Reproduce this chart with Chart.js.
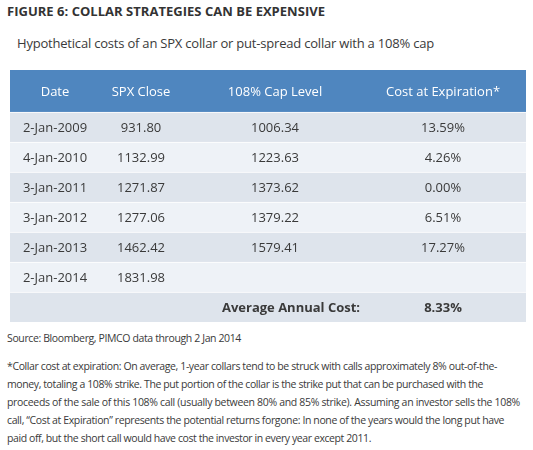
<!DOCTYPE html>
<html>
<head>
<meta charset="utf-8">
<script src="https://cdn.jsdelivr.net/npm/chart.js@4.4.1/dist/chart.umd.min.js"></script>
<style>
  body { margin: 0; background: #fff; width: 533px; height: 450px; position: relative; overflow: hidden;
         font-family: "Open Sans", "Noto Sans", sans-serif; color: #3a3a3a; }
  .line { position: absolute; left: 7px; white-space: nowrap; }
  .title { top: 2px; font-size: 13px; font-weight: 700; color: #333; }
  .subtitle { left: 17px; top: 34px; font-size: 13px; }
  .small { font-size: 10.5px; }
  #wrap { position: absolute; left: 10px; top: 70px; width: 516px; height: 252px; }
</style>
</head>
<body>
<div class="line title" data-w="318">FIGURE 6: COLLAR STRATEGIES CAN BE EXPENSIVE</div>
<div class="line subtitle" data-w="417">Hypothetical costs of an SPX collar or put-spread collar with a 108% cap</div>
<div id="wrap"><canvas id="collarTable"></canvas></div>
<div class="line small" style="top:331px" data-w="234">Source: Bloomberg, PIMCO data through 2 Jan 2014</div>
<div class="line small" style="top:359px" data-w="490">*Collar cost at expiration: On average, 1-year collars tend to be struck with calls approximately 8% out-of-the-</div>
<div class="line small" style="top:377px" data-w="476">money, totaling a 108% strike. The put portion of the collar is the strike put that can be purchased with the</div>
<div class="line small" style="top:395px" data-w="513">proceeds of the sale of this 108% call (usually between 80% and 85% strike). Assuming an investor sells the 108%</div>
<div class="line small" style="top:413px" data-w="497">call, &ldquo;Cost at Expiration&rdquo; represents the potential returns forgone: In none of the years would the long put have</div>
<div class="line small" style="top:431px" data-w="364">paid off, but the short call would have cost the investor in every year except 2011.</div>
<script>
// table data
const headers = [ 'Date', 'SPX Close', '108% Cap Level', 'Cost at Expiration*' ];
const dates = [ '2-Jan-2009', '4-Jan-2010', '3-Jan-2011', '3-Jan-2012', '2-Jan-2013', '2-Jan-2014' ];
const spxClose = [ 931.80, 1132.99, 1271.87, 1277.06, 1462.42, 1831.98 ];
const capLevel = [ 1006.34, 1223.63, 1373.62, 1379.22, 1579.41, null ];
const costAtExpiration = [ 13.59, 4.26, 0.00, 6.51, 17.27, null ];
const averageLabel = 'Average Annual Cost:';
const averageAnnualCost = 8.33;

// layout (row units: 1 = one body row, header is taller)
const headerHeight = 1.4;
const colCenters = [ 45, 131, 265, 433 ];   // px inside the table
const avgLabelCenter = 281;
const tableWidth = 516;
const headerColor = '#4f86bf';
const oddRow = '#dee4ec';
const evenRow = '#eef2f7';
const textColor = '#3a3a3a';

// squeeze the text lines to the reference widths
document.querySelectorAll('[data-w]').forEach(el => {
  const nat = el.getBoundingClientRect().width;
  const n = el.textContent.length;
  el.style.letterSpacing = ((+el.dataset.w - nat) / n).toFixed(3) + 'px';
});

const nRows = dates.length + 1; // + average row
const rowSpans = [ [ -headerHeight, 0 ] ];
const rowColors = [ headerColor ];
const rowBorders = [ 0 ];
for ( let i = 0; i < nRows; i++ ) {
  rowSpans.push([ i, i + 1 ]);
  rowColors.push(i % 2 === 0 ? oddRow : evenRow);
  rowBorders.push({ top: 1, left: 0, right: 0, bottom: 0 });
}

const fmt = (v, d) => v === null ? '' : v.toFixed(d);

// cell text drawn at scale positions
const cellText = {
  id: 'cellText',
  afterDatasetsDraw(chart) {
    const ctx = chart.ctx;
    const y = chart.scales.y;
    const cx = chart.scales.cx;
    ctx.save();
    ctx.textAlign = 'center';
    ctx.textBaseline = 'middle';
    // header
    ctx.fillStyle = '#ffffff';
    ctx.font = '13px "Open Sans"';
    headers.forEach((h, c) => {
      ctx.fillText(h, cx.getPixelForValue(colCenters[ c ]), y.getPixelForValue(-headerHeight / 2) + 1);
    });
    // body
    ctx.fillStyle = textColor;
    ctx.font = '13px "Open Sans"';
    dates.forEach((d, r) => {
      const ty = y.getPixelForValue(r + 0.5) + 1;
      const cells = [ d, fmt(spxClose[ r ], 2), fmt(capLevel[ r ], 2),
        costAtExpiration[ r ] === null ? '' : fmt(costAtExpiration[ r ], 2) + '%' ];
      cells.forEach((t, c) => ctx.fillText(t, cx.getPixelForValue(colCenters[ c ]), ty));
    });
    // average row
    ctx.font = 'bold 13px "Open Sans"';
    const ay = y.getPixelForValue(dates.length + 0.5) + 1;
    ctx.fillText(averageLabel, cx.getPixelForValue(avgLabelCenter), ay);
    ctx.fillText(averageAnnualCost.toFixed(2) + '%', cx.getPixelForValue(colCenters[ 3 ]), ay);
    ctx.restore();
  }
};

const collarTable = new Chart(document.getElementById('collarTable'), {
  type: 'bar',
  data: {
    labels: [ 'table' ],
    datasets: [ {
      data: rowSpans.map(s => ({ x: 'table', y: s })),
      backgroundColor: rowColors,
      borderColor: '#ffffff',
      borderWidth: rowBorders,
      borderSkipped: false,
      barPercentage: 1,
      categoryPercentage: 1
    } ]
  },
  options: {
    responsive: true,
    maintainAspectRatio: false,
    animation: false,
    events: [],
    layout: { padding: 0 },
    plugins: { legend: { display: false }, tooltip: { enabled: false } },
    scales: {
      x: { type: 'category', display: false },
      cx: { type: 'linear', axis: 'x', offset: false, min: 0, max: tableWidth, display: false },
      y: { type: 'linear', reverse: true, min: -headerHeight, max: nRows, display: false }
    }
  },
  plugins: [ cellText ]
});
</script>
</body>
</html>
